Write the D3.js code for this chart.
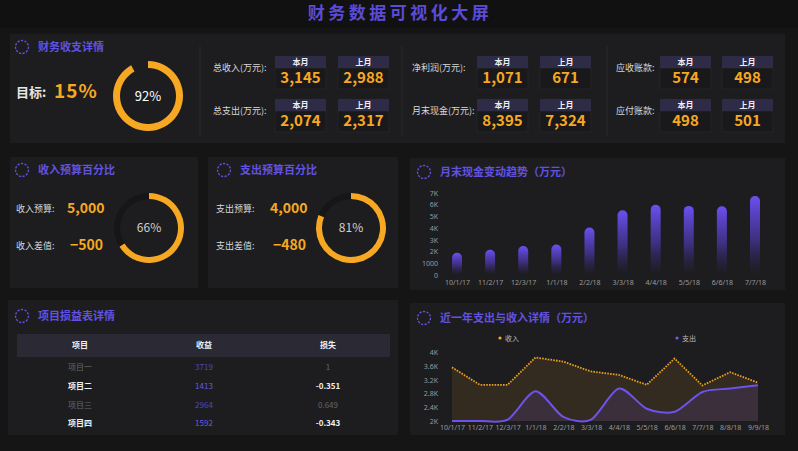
<!DOCTYPE html>
<html><head><meta charset="utf-8">
<script src="https://cdn.jsdelivr.net/npm/d3@7/dist/d3.min.js"></script>
<style>
html,body{margin:0;padding:0;background:#141414;}
svg{display:block;font-family:"Noto Sans CJK SC","Noto Sans",sans-serif;}
</style></head>
<body>
<svg id="c" width="798" height="451"></svg>
<script>
// ---------- DATA ----------
const pageTitle = "财务数据可视化大屏";
const panelTitles = ["财务收支详情","收入预算百分比","支出预算百分比","月末现金变动趋势（万元）","项目损益表详情","近一年支出与收入详情（万元）"];
const targetLabel = "目标:";
const targetValue = "15%";
const overallPct = 92;
const kpiLabels = ["总收入(万元):","总支出(万元):","净利润(万元):","月末现金(万元):","应收账款:","应付账款:"];
const kpiHeaders = ["本月","上月"];
const kpiThisMonth = [3145, 2074, 1071, 8395, 574, 498];
const kpiLastMonth = [2988, 2317, 671, 7324, 498, 501];
const budgetLabels = [["收入预算:","收入差值:"],["支出预算:","支出差值:"]];
const budgetValues = [[5000,-500],[4000,-480]];
const budgetPct = [66, 81];
const barDates = ["10/1/17","11/2/17","12/3/17","1/1/18","2/2/18","3/3/18","4/4/18","5/5/18","6/6/18","7/7/18"];
const barValues = [1900, 2150, 2480, 2600, 4050, 5530, 6000, 5900, 5870, 6750];
const barTicks = [0,1000,2000,3000,4000,5000,6000,7000];
const barTickLabels = ["0","1000","2K","3K","4K","5K","6K","7K"];
const tableHeaders = ["项目","收益","损失"];
const tableProjects = ["项目一","项目二","项目三","项目四"];
const tableIncome = [3719, 1413, 2964, 1592];
const tableLoss = ["1","-0.351","0.649","-0.343"];
const lineDates = ["10/1/17","11/2/17","12/3/17","1/1/18","2/2/18","3/3/18","4/4/18","5/5/18","6/6/18","7/7/18","8/8/18","9/9/18"];
const incomeSeries = [3570, 3060, 3060, 3860, 3740, 3450, 3350, 3060, 3830, 3040, 3430, 3120];
const expenseSeries = [2000, 2000, 2040, 2870, 2120, 2040, 2950, 2360, 2270, 2850, 2950, 3050];
const lineTicks = [2000,2400,2800,3200,3600,4000];
const lineTickLabels = ["2K","2.4K","2.8K","3.2K","3.6K","4K"];
const legendNames = ["收入","支出"];

// ---------- STYLE ----------
const PURPLE = "#6252e0", ORANGE = "#f7a823", PANEL = "#1d1d1f", TXT = "#d8d8d8";
const svg = d3.select("#c");
const defs = svg.append("defs");
svg.append("rect").attr("width",798).attr("height",451).attr("fill","#151515");
svg.append("rect").attr("width",798).attr("height",28).attr("fill","#111111");

svg.append("text").attr("x",400).attr("y",19).attr("text-anchor","middle")
  .attr("font-size",17).attr("font-weight","bold").attr("letter-spacing",3.5)
  .attr("fill","#5a4bd8").text(pageTitle);

// panels
const panels = [[10,34,775,109],[10,157,188,131],[208,157,190,131],[410,158,375,132],[8,300,390,135],[410,303,375,132]];
panels.forEach(p=>svg.append("rect").attr("x",p[0]).attr("y",p[1]).attr("width",p[2]).attr("height",p[3]).attr("fill",PANEL));

function panelTitle(x,y,t){
  svg.append("circle").attr("cx",x).attr("cy",y).attr("r",6.5).attr("fill","none")
    .attr("stroke",PURPLE).attr("stroke-width",1.3).attr("stroke-dasharray","2.2,1.4");
  svg.append("text").attr("x",x+16).attr("y",y+4).attr("font-size",11).attr("font-weight","bold")
    .attr("fill",PURPLE).text(t);
}
panelTitle(22,47,panelTitles[0]);
panelTitle(22,170,panelTitles[1]);
panelTitle(224,170,panelTitles[2]);
panelTitle(424,172,panelTitles[3]);
panelTitle(22,316,panelTitles[4]);
panelTitle(424,318,panelTitles[5]);

// donut helper
const pctAngle = d3.scaleLinear().domain([0,100]).range([0,2*Math.PI]);
function donut(cx,cy,pct,outer,inner,track,color,fs){
  const g = svg.append("g").attr("transform",`translate(${cx},${cy})`);
  const arc = d3.arc().innerRadius(inner).outerRadius(outer);
  if(track) g.append("path").attr("d",arc({startAngle:0,endAngle:2*Math.PI})).attr("fill",track);
  g.append("path").attr("d",arc({startAngle:0,endAngle:pctAngle(pct)})).attr("fill",ORANGE);
  g.append("text").attr("y",fs*0.36).attr("text-anchor","middle").attr("font-size",fs)
    .attr("fill",color).text(pct+"%");
}

// top section 1
svg.append("text").attr("x",16).attr("y",97).attr("font-size",13).attr("font-weight","bold").attr("fill","#e6e6e6").text(targetLabel);
svg.append("text").attr("x",54).attr("y",98).attr("font-size",19).attr("font-weight","bold").attr("fill",ORANGE).attr("letter-spacing",1).text(targetValue);
donut(148,96,overallPct,35,28,null,"#ffffff",13);

// separators
[200,402,607].forEach(x=>svg.append("line").attr("x1",x).attr("x2",x).attr("y1",46).attr("y2",136).attr("stroke","#2a2a2c").attr("stroke-width",1));

// KPI boxes
const secLabelX = [213,412,616], box1X = [275,477,660], box2X = [338,540,722], rowY = [56,99];
const fmt = d3.format(",");
kpiLabels.forEach((lab,i)=>{
  const s = Math.floor(i/2), r = i%2, hy = rowY[r];
  svg.append("text").attr("x",secLabelX[s]).attr("y",hy+15).attr("font-size",9).attr("fill",TXT).text(lab);
  [[box1X[s],kpiThisMonth[i],kpiHeaders[0]],[box2X[s],kpiLastMonth[i],kpiHeaders[1]]].forEach(([bx,v,h])=>{
    svg.append("rect").attr("x",bx).attr("y",hy+12).attr("width",51).attr("height",21).attr("fill","#19191b").attr("stroke","#252528");
    svg.append("rect").attr("x",bx).attr("y",hy).attr("width",51).attr("height",12).attr("fill","#2e2b47");
    svg.append("text").attr("x",bx+25.5).attr("y",hy+9).attr("text-anchor","middle").attr("font-size",8).attr("font-weight","bold").attr("fill","#f0f0f0").text(h);
    svg.append("text").attr("x",bx+25.5).attr("y",hy+27).attr("text-anchor","middle").attr("font-size",15).attr("font-weight","bold").attr("fill",ORANGE).text(fmt(v));
  });
});

// budget panels
const budgetLabelX = [16,216], budgetValX = [67,270], donutCX = [149,351];
budgetLabels.forEach((labs,k)=>{
  [0,1].forEach(j=>{
    const y = j===0 ? 213 : 250;
    svg.append("text").attr("x",budgetLabelX[k]).attr("y",y-1).attr("font-size",9).attr("fill",TXT).text(labs[j]);
    svg.append("text").attr("x",budgetValX[k]+(j===1?3:0)).attr("y",y).attr("font-size",14).attr("font-weight","bold").attr("fill",ORANGE).text(fmt(budgetValues[k][j]));
  });
  donut(donutCX[k],228,budgetPct[k],35,29,"#161617","#cfcfcf",12);
});

// bar chart
const bx = d3.scalePoint().domain(barDates).range([457,755]);
const by = d3.scaleLinear().domain([0,7000]).range([275,193]);
const grad = defs.append("linearGradient").attr("id","barGrad").attr("x1",0).attr("y1",0).attr("x2",0).attr("y2",1);
grad.append("stop").attr("offset","0%").attr("stop-color","#6d50f2").attr("stop-opacity",1);
grad.append("stop").attr("offset","55%").attr("stop-color","#5a3fcf").attr("stop-opacity",0.55);
grad.append("stop").attr("offset","100%").attr("stop-color","#3a2a80").attr("stop-opacity",0);
const yAxisBar = svg.append("g").attr("transform","translate(438,0)")
  .call(d3.axisLeft(by).tickValues(barTicks).tickFormat((d,i)=>barTickLabels[i]).tickSize(0).tickPadding(0));
yAxisBar.select(".domain").remove();
yAxisBar.selectAll("text").attr("fill","#9a9a9a").attr("font-size",7).attr("font-family","Noto Sans,sans-serif");
const xAxisBar = svg.append("g").attr("transform","translate(0,279)")
  .call(d3.axisBottom(bx).tickSize(0).tickPadding(0));
xAxisBar.select(".domain").remove();
xAxisBar.selectAll("text").attr("fill","#9a9a9a").attr("font-size",7).attr("dy","0.9em").attr("font-family","Noto Sans,sans-serif");
svg.append("g").selectAll("rect").data(barValues).join("rect")
  .attr("x",(d,i)=>bx(barDates[i])-5).attr("width",10)
  .attr("y",d=>by(d)).attr("height",d=>by(0)-by(d)).attr("rx",5)
  .attr("fill","url(#barGrad)");

// table
svg.append("rect").attr("x",17).attr("y",334).attr("width",373).attr("height",23).attr("fill","#2a2934");
const colX = [80,204,328];
tableHeaders.forEach((h,i)=>svg.append("text").attr("x",colX[i]).attr("y",348).attr("text-anchor","middle")
  .attr("font-size",8).attr("font-weight","bold").attr("fill","#f0f0f0").text(h));
tableProjects.forEach((p,r)=>{
  const y = 370 + r*18.8, dim = r%2===0;
  const c = dim ? "#66666a" : "#f2f2f2";
  svg.append("text").attr("x",colX[0]).attr("y",y).attr("text-anchor","middle").attr("font-size",8).attr("font-weight",dim?"normal":"bold").attr("fill",c).text(p);
  svg.append("text").attr("x",colX[1]).attr("y",y).attr("text-anchor","middle").attr("font-size",8).attr("fill",dim?"#5646b8":"#6a58e6").text(tableIncome[r]);
  svg.append("text").attr("x",colX[2]).attr("y",y).attr("text-anchor","middle").attr("font-size",8).attr("font-weight",dim?"normal":"bold").attr("fill",c).text(tableLoss[r]);
});

// line chart
const lx = d3.scalePoint().domain(lineDates).range([452,758]);
const ly = d3.scaleLinear().domain([2000,4000]).range([421,352.7]);
const yAxisLine = svg.append("g").attr("transform","translate(438,0)")
  .call(d3.axisLeft(ly).tickValues(lineTicks).tickFormat((d,i)=>lineTickLabels[i]).tickSize(0).tickPadding(0));
yAxisLine.select(".domain").remove();
yAxisLine.selectAll("text").attr("fill","#9a9a9a").attr("font-size",7).attr("font-family","Noto Sans,sans-serif");
const xAxisLine = svg.append("g").attr("transform","translate(0,424)")
  .call(d3.axisBottom(lx).tickSize(0).tickPadding(0));
xAxisLine.select(".domain").remove();
xAxisLine.selectAll("text").attr("fill","#9a9a9a").attr("font-size",7).attr("dy","0.9em").attr("font-family","Noto Sans,sans-serif");

const smooth = d3.curveCardinal.tension(0.2);
const incArea = d3.area().x((d,i)=>lx(lineDates[i])).y0(ly(2000)).y1(d=>ly(d));
const incLine = d3.line().x((d,i)=>lx(lineDates[i])).y(d=>ly(d));
const expArea = d3.area().x((d,i)=>lx(lineDates[i])).y0(ly(2000)).y1(d=>Math.min(ly(2000),ly(d))).curve(smooth);
const expLine = d3.line().x((d,i)=>lx(lineDates[i])).y(d=>ly(d)).curve(smooth);
svg.append("path").attr("d",incArea(incomeSeries)).attr("fill","#f7a823").attr("fill-opacity",0.1);
svg.append("path").attr("d",expArea(expenseSeries)).attr("fill","#6d50f2").attr("fill-opacity",0.13);
svg.append("path").attr("d",incLine(incomeSeries)).attr("fill","none").attr("stroke","#e89e22").attr("stroke-width",1.8).attr("stroke-dasharray","1.6,1.2");
svg.append("path").attr("d",expLine(expenseSeries)).attr("fill","none").attr("stroke","#6d52ec").attr("stroke-width",2);

// legend
const legendX = [500,677], legendC = [ORANGE,"#7258ee"];
legendNames.forEach((n,i)=>{
  svg.append("circle").attr("cx",legendX[i]).attr("cy",338).attr("r",1.6).attr("fill",legendC[i]);
  svg.append("text").attr("x",legendX[i]+5).attr("y",341).attr("font-size",7).attr("fill","#bdbdbd").text(n);
});
</script>
</body></html>
